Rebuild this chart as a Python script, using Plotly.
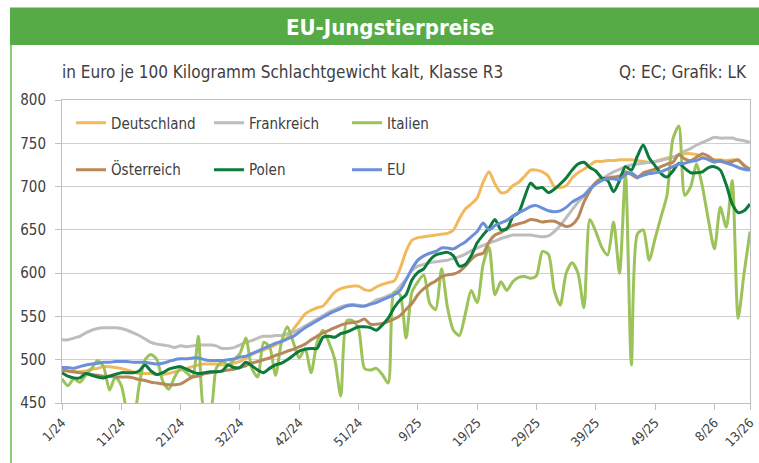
import plotly.graph_objects as go

# ---------------- data ----------------
tick_labels = ["1/24", "11/24", "21/24", "32/24", "42/24", "51/24", "9/25",
               "19/25", "29/25", "39/25", "49/25", "8/26", "13/26"]
tick_index = [0, 10, 20, 30, 40, 50, 60, 70, 80, 90, 100, 110, 116]

deutschland = [488, 487, 486, 486, 487, 489, 490, 492, 492, 491, 490, 488, 486, 484, 484, 484, 483, 483, 484, 486,
               488, 490, 492, 494, 495, 495, 495, 494, 494, 496, 498,
               502, 506, 509, 511, 514, 517, 521, 526, 535, 544, 553, 557, 560, 562, 570, 578, 582, 584, 585, 585,
               581, 580, 584, 587, 589, 591, 605, 625, 638, 641, 642,
               643, 644, 645, 646, 650, 663, 674, 680, 687, 705, 717, 703, 693, 694, 701, 705, 712, 719, 719, 717,
               712, 700, 699, 701, 710, 716, 720, 725, 729,
               729, 730, 730, 731, 731, 731, 730, 729, 728, 729, 731, 733, 734, 736, 738, 738, 737, 734, 732, 731,
               731, 730, 731, 730, 725, 719]
frankreich = [523, 523, 525, 527, 531, 534, 536, 537, 537, 537, 536, 534, 531, 528, 524, 520, 518, 517, 516, 514,
              516, 515, 516, 517, 517, 517, 516, 513, 513, 514, 517,
              520, 522, 525, 527, 527, 528, 528, 530, 532, 535, 539, 543, 547, 551, 555, 558, 561, 563, 564, 563,
              562, 565, 569, 571, 574, 577, 585, 593, 603, 608,
              610, 612, 613, 614, 615, 617, 619, 622, 626, 629, 632, 635, 637, 640, 642, 644, 644, 644, 644, 643,
              642, 643, 648, 655, 664, 673, 682, 689, 698, 704,
              708, 713, 717, 720, 723, 725, 726, 727, 728, 729, 730, 732, 734, 737, 741, 744, 748, 751, 754, 757,
              756, 756, 756, 754, 753, 751]
italien = [478, 470, 478, 474, 482, 490, 499, 492, 465, 480, 470, 440, 430, 470, 500, 506, 500, 475, 466, 480,
           490, 485, 480, 527, 440, 440, 490, 498, 494, 500, 507,
           525, 490, 480, 520, 515, 482, 520, 538, 520, 502, 513, 485, 520, 534, 520, 500, 458, 545, 545, 536,
           490, 488, 490, 483, 473, 578, 575, 525, 578, 590,
           598, 565, 558, 605, 560, 534, 528, 553, 580, 566, 610, 630, 575, 590, 580, 590, 595, 596, 594, 597,
           625, 622, 580, 563, 600, 612, 600, 560, 662,
           648, 630, 621, 659, 600, 715, 494, 645, 650, 615, 640, 665, 690, 755, 770, 690, 700, 726, 699, 661,
           628, 676, 653, 707, 548, 600, 648]
oesterreich = [488, 487, 486, 485, 484, 483, 482, 481, 481, 480, 480, 480, 479, 477, 476, 474, 473, 472, 471, 471,
               472, 476, 480, 481, 484, 485, 486, 487, 488, 489, 491,
               493, 496, 498, 500, 502, 505, 507, 510, 512, 515, 518, 523, 527, 531, 534, 537, 540, 542, 543, 544,
               547, 541, 541, 542, 544, 547, 551, 558, 565, 575, 582,
               587, 591, 596, 598, 599, 602, 608, 616, 621, 623, 636, 644, 647, 652, 655, 657, 659, 662, 661, 659,
               660, 660, 657, 654, 656, 664, 682, 695, 705,
               709, 710, 711, 712, 717, 714, 710, 716, 718, 720, 723, 726, 728, 737, 732, 730, 734, 738, 735, 730,
               729, 728, 729, 731, 724, 720]
polen = [485, 481, 479, 479, 484, 482, 480, 479, 481, 483, 485, 485, 485, 487, 494, 487, 483, 485, 489, 491,
         492, 489, 486, 484, 485, 486, 486, 487, 494, 491, 491,
         497, 493, 488, 485, 490, 494, 496, 500, 505, 510, 512, 513, 513, 526, 527, 526, 530, 532, 535, 538,
         538, 537, 534, 540, 548, 560, 569, 575, 592, 601, 605,
         615, 621, 623, 624, 620, 608, 610, 620, 635, 644, 652, 662, 650, 651, 665, 670, 688, 704, 698, 699,
         693, 697, 703, 710, 719, 726, 728, 722, 718,
         710, 707, 694, 707, 723, 719, 735, 748, 733, 724, 715, 711, 718, 727, 721, 716, 716, 717, 722, 723,
         719, 702, 680, 670, 672, 680]
eu = [491, 491, 490, 492, 494, 495, 496, 497, 497, 498, 498, 498, 497, 497, 497, 496, 495, 496, 498, 500,
      501, 501, 502, 502, 500, 499, 499, 499, 500, 501, 503,
      504, 507, 510, 513, 516, 519, 521, 524, 527, 532, 537, 541, 545, 549, 553, 556, 559, 562, 563, 562,
      562, 564, 566, 569, 572, 575, 580, 592, 605, 615,
      620, 623, 625, 629, 629, 628, 632, 636, 642, 648, 658, 650, 655, 658, 661, 666, 670, 673, 677, 678,
      675, 672, 671, 672, 676, 682, 686, 690, 697, 703,
      707, 709, 709, 708, 714, 716, 711, 713, 715, 716, 717, 720, 723, 726, 727, 729, 730, 733, 731, 728,
      730, 727, 725, 722, 720, 719]

series_names = ["Deutschland", "Frankreich", "Italien", "Österreich", "Polen", "EU"]
series_values = [deutschland, frankreich, italien, oesterreich, polen, eu]
series_colors = ["#F0BA5C", "#BDBDBD", "#9CC25A", "#B8875A", "#0B7A3B", "#6B8FD9"]
series_legend = ["legend", "legend", "legend", "legend2", "legend2", "legend2"]

x_index = list(range(len(eu)))

# ---------------- layout helpers ----------------
W_FIG, H_FIG = 759, 463
L, R, T, B = 62, 750.3, 100, 403.5


def px_x(p):
    return (p - L) / (R - L)


def px_y(p):
    return (B - p) / (B - T)


FONT = "DejaVu Sans Condensed, Liberation Sans Narrow, Arial Narrow, sans-serif"
TXT = "#404040"
GRID = "#CFCFCF"

fig = go.Figure()
for name, vals, col, lg in zip(series_names, series_values, series_colors, series_legend):
    fig.add_trace(go.Scatter(
        x=x_index, y=vals, name=name, mode="lines",
        line=dict(color=col, width=3, shape="spline", smoothing=0.7),
        legend=lg, hoverinfo="skip"))

legend_common = dict(orientation="h", xanchor="left", yanchor="middle",
                     entrywidth=93, entrywidthmode="pixels",
                     bgcolor="rgba(0,0,0,0)", borderwidth=0,
                     font=dict(family=FONT, size=15, color=TXT),
                     itemclick=False, itemdoubleclick=False)

fig.update_layout(
    width=W_FIG, height=H_FIG,
    margin=dict(l=L, r=W_FIG - R, t=T, b=H_FIG - B, autoexpand=False),
    paper_bgcolor="white", plot_bgcolor="white",
    showlegend=True,
    legend=dict(x=px_x(71), y=px_y(123), **legend_common),
    legend2=dict(x=px_x(71), y=px_y(170), **legend_common),
    xaxis=dict(range=[0, len(eu) - 1], tickvals=tick_index, ticktext=tick_labels,
               tickangle=-45, showgrid=False, zeroline=False,
               showline=True, linecolor="#BFBFBF", linewidth=1, mirror=True,
               ticks="outside", ticklen=6, tickcolor="#BFBFBF",
               tickfont=dict(family=FONT, size=13, color=TXT)),
    yaxis=dict(range=[450, 800], dtick=50, tick0=450, showgrid=True, gridcolor=GRID, gridwidth=1,
               zeroline=False, showline=True, linecolor="#BFBFBF", linewidth=1, mirror=True,
               ticks="outside", ticklen=6, tickcolor="#BFBFBF", ticklabelstandoff=6,
               tickfont=dict(family=FONT, size=15, color=TXT)),
    shapes=[
        dict(type="rect", xref="paper", yref="paper", x0=px_x(10), x1=px_x(760), y0=px_y(7.3), y1=px_y(45),
             fillcolor="#56AB47", line=dict(width=0), layer="above"),
        dict(type="line", xref="paper", yref="paper", x0=px_x(11), x1=px_x(11), y0=px_y(45), y1=px_y(464),
             line=dict(color="#63BC4E", width=1.5)),
    ],
    annotations=[
        dict(text="<b>EU-Jungstierpreise</b>", xref="paper", yref="paper", x=px_x(390), y=px_y(27),
             xanchor="center", yanchor="middle", showarrow=False,
             font=dict(family=FONT, size=22, color="white")),
        dict(text="in Euro je 100 Kilogramm Schlachtgewicht kalt, Klasse R3", xref="paper", yref="paper",
             x=px_x(60), y=px_y(72), xanchor="left", yanchor="middle", showarrow=False,
             font=dict(family=FONT, size=17, color=TXT)),
        dict(text="Q: EC; Grafik: LK", xref="paper", yref="paper",
             x=px_x(749), y=px_y(72), xanchor="right", yanchor="middle", showarrow=False,
             font=dict(family=FONT, size=17, color=TXT)),
    ],
)

fig.write_html("out.html", config={"displayModeBar": False, "staticPlot": True},
               post_script="document.body.style.margin='0';document.body.style.padding='0';")
